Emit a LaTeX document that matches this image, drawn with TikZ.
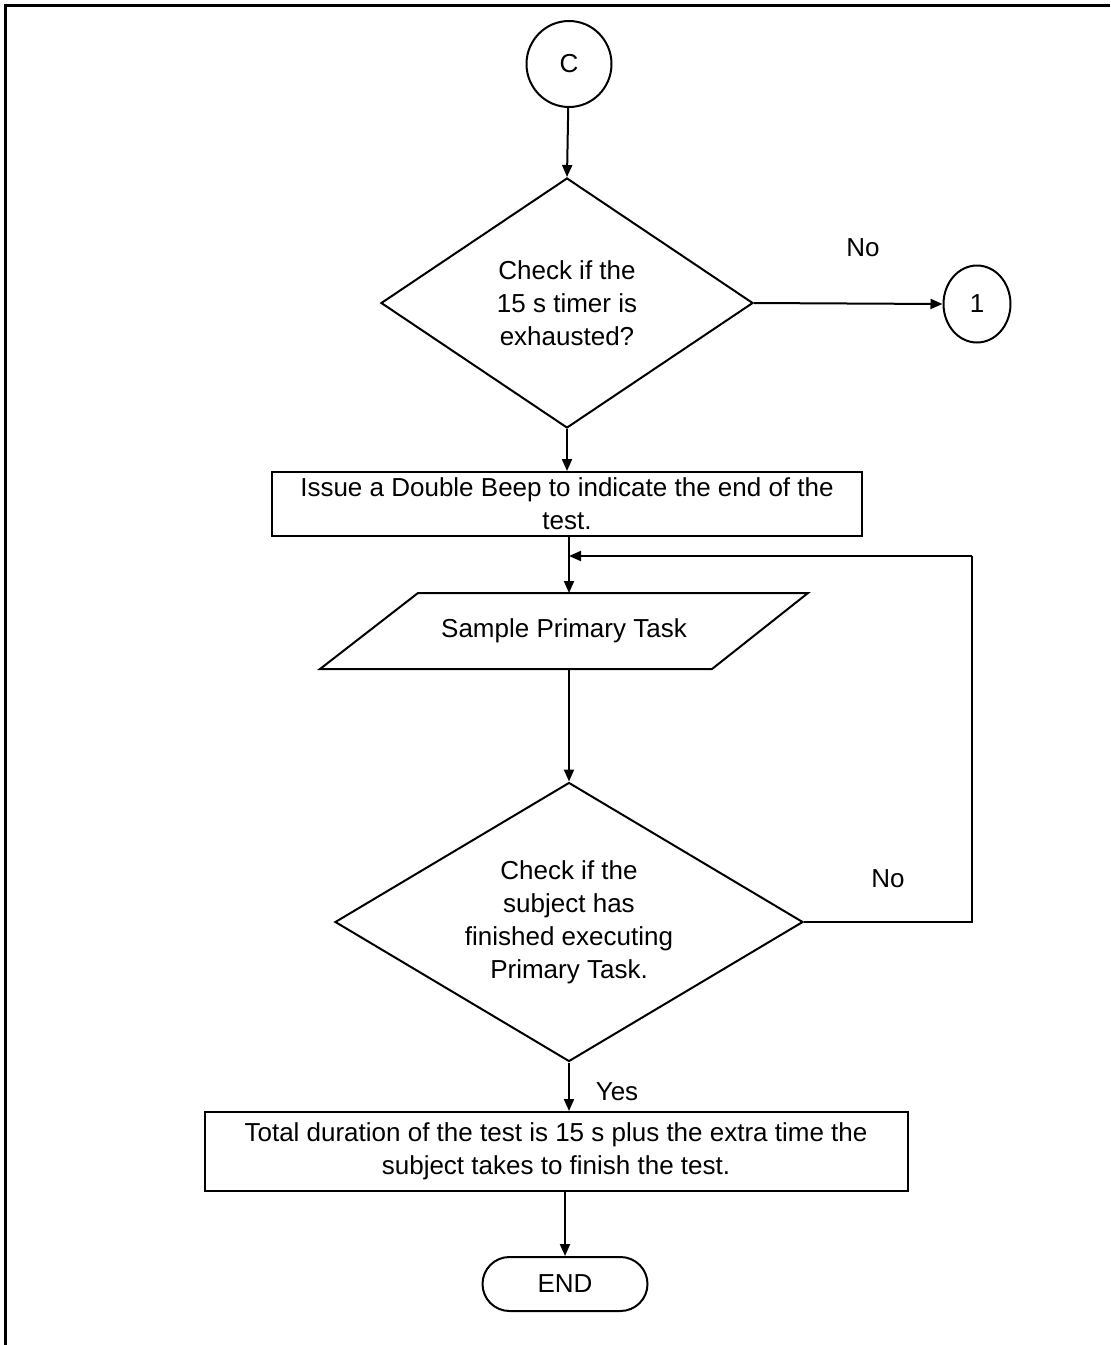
\documentclass[tikz,border=0pt]{standalone}
\usepackage{fontspec}
\setmainfont{Liberation Sans}
\usetikzlibrary{arrows.meta,shapes.geometric,shapes.misc}
\begin{document}
\begin{tikzpicture}[x=0.5pt,y=-0.5pt,
  every node/.style={font=\fontsize{13pt}{16.5pt}\selectfont, inner sep=0pt},
  box/.style={draw, line width=1pt, rectangle, align=center},
  decision/.style={draw, line width=1pt, diamond, align=center},
  connector/.style={draw, line width=1pt, ellipse},
  terminal/.style={draw, line width=1pt, rounded rectangle},
  flow/.style={line width=1pt, -{Triangle[length=6pt,width=5pt]}},
  link/.style={line width=1pt},
  frame/.style={line width=1.5pt}
]
\useasboundingbox (0,0) rectangle (1110,1345);
% page frame: top and left rules
\draw[frame] (5,1345) -- (5,5) -- (1110,5);

% nodes
\node[connector, minimum width=42.5pt, minimum height=43pt] (c) at (569,64) {C};
\node[decision, aspect=1.49, minimum width=186pt, minimum height=125pt] (d1) at (567,303)
  {Check if the\\15 s timer is\\exhausted?};
\node[connector, minimum width=33.5pt, minimum height=38.5pt] (one) at (977,304) {1};
\node[box, minimum width=295pt, minimum height=32pt] (r1) at (567,504)
  {Issue a Double Beep to indicate the end of the\\test.};

% input/output step: parallelogram around its label
\node (p) at (564,631) {Sample Primary Task};
\coordinate (pin) at (569,593);
\coordinate (pout) at (569,669);
\draw[line width=1pt] (320,669) -- (418,593) -- (808,593) -- (712,669) -- cycle;

\node[decision, aspect=1.68, minimum width=234pt, minimum height=139.5pt] (d2) at (569,922)
  {Check if the\\subject has\\finished executing\\Primary Task.};
\node[box, minimum width=351.5pt, minimum height=39.5pt] (r2) at (556,1151.5)
  {Total duration of the test is 15 s plus the extra time the\\subject takes to finish the test.};
\node[terminal, minimum width=82.5pt, minimum height=27pt] (e) at (565,1284) {END};

% branch labels
\node (no1) at (863,248) {No};
\node (no2) at (888,879) {No};
\node (yes) at (617,1092) {Yes};

% loop-back coordinates
\coordinate (lp) at (972,556);
\coordinate (mrg) at (569,556);

% connectors
\draw[flow] (c) -- (d1.north);
\draw[flow] (d1.east) -- (one.west);
\draw[flow] (d1.south) -- (d1.south |- r1.north);
\draw[flow] (r1.south -| pin) -- (pin);
\draw[flow] (pout) -- (d2.north);
\draw[link] (d2.east) -| (lp);
\draw[flow] (lp) -- (mrg);
\draw[flow] (d2.south) -- (d2.south |- r2.north);
\draw[flow] (r2.south -| e.north) -- (e.north);
\end{tikzpicture}
\end{document}
